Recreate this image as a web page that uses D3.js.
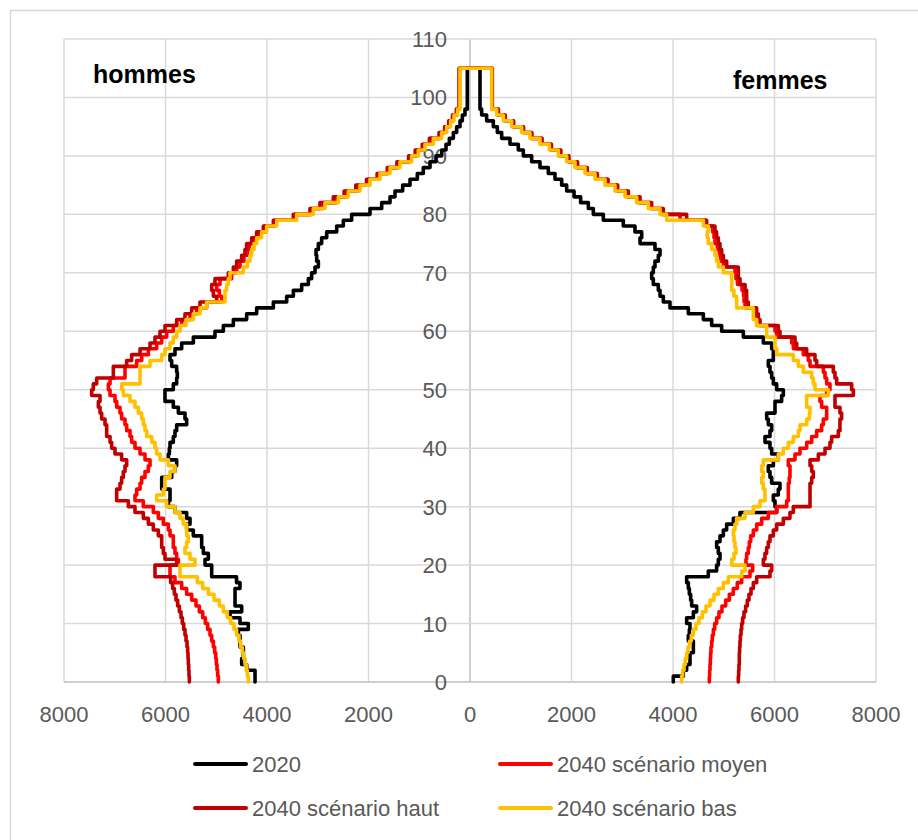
<!DOCTYPE html>
<html>
<head>
<meta charset="utf-8">
<script src="https://cdn.jsdelivr.net/npm/d3@7/dist/d3.min.js"></script>
<style>
  html, body { margin: 0; padding: 0; background: #ffffff; }
  svg { display: block; }
</style>
</head>
<body>
<svg id="chart" width="918" height="840"></svg>
<script>
// ---- Data (ages 0..97 single years, last entry = 98+ drawn up to age 105) ----
const ages = d3.range(0, 99);
const topAge = 105;

const seriesNames = ["2020", "2040 scénario moyen", "2040 scénario haut", "2040 scénario bas"];

const men2020 = [4236,4236,4400,4499,4466,4466,4532,4532,4565,4368,4532,4729,4499,4630,4630,4630,4532,4600,5090,5090,
  5221,5156,5254,5287,5287,5452,5583,5517,5583,5813,5944,5911,5911,6075,6075,5878,5813,5780,5944,5924,
  5911,5846,5813,5780,5583,5616,5747,5846,6010,6010,5846,5780,5767,5780,5878,5911,5813,5681,5451,5025,
  4860,4663,4401,4204,3875,3612,3481,3317,3185,3120,3054,2988,3021,3034,2988,2923,2824,2627,2496,2332,
  1970,1740,1576,1478,1327,1182,1038,920,788,670,558,473,407,328,263,197,151,99,53];

const menMoyen = [4959,4972,4985,4998,5011,5031,5057,5090,5123,5169,5215,5267,5333,5399,5484,5583,5681,5813,5911,5911,
  5747,5780,5813,5846,5846,5911,5944,6043,6141,6240,6437,6601,6568,6502,6470,6404,6338,6305,6404,6502,
  6601,6667,6699,6765,6798,6864,6896,6962,6995,7093,7126,7093,6798,6798,6568,6469,6338,6174,6075,5977,
  5846,5681,5517,5386,5189,4893,4939,4992,4926,4696,4598,4532,4453,4387,4348,4269,4171,4039,3842,3448,
  3120,2890,2627,2430,2200,2000,1800,1605,1410,1180,1050,915,780,585,485,405,335,260,205];

const menHaut = [5530,5537,5543,5550,5556,5563,5576,5596,5616,5642,5668,5694,5727,5760,5793,5826,5859,5898,6207,6207,
  5780,6010,6043,6075,6075,6141,6240,6338,6437,6601,6732,6962,6962,6896,6864,6831,6798,6765,6864,6995,
  7061,7093,7159,7159,7192,7258,7290,7323,7290,7455,7422,7356,7028,7028,6765,6667,6502,6305,6207,6108,
  6010,5780,5616,5484,5320,4992,5057,5090,5025,4762,4663,4598,4499,4434,4401,4302,4204,4072,3875,3481,
  3153,2956,2693,2480,2250,2040,1830,1630,1440,1210,1080,940,800,610,500,420,345,270,215];

const menBas = [4368,4388,4407,4433,4460,4486,4519,4552,4598,4650,4716,4782,4860,4939,5044,5156,5267,5372,5714,5714,
  5419,5517,5616,5583,5550,5583,5583,5650,5714,5813,5978,6174,6043,6010,6010,5911,5813,5944,6108,6174,
  6207,6272,6371,6404,6437,6470,6535,6601,6700,6830,6863,6502,6502,6502,6305,6075,6010,5911,5846,5780,
  5714,5596,5452,5320,5189,4827,4827,4795,4762,4729,4466,4387,4335,4302,4256,4203,4105,4006,3809,3415,
  3087,2857,2594,2397,2167,1970,1773,1576,1379,1149,1018,887,722,558,460,381,315,243,197];

const women2020 = [4006,4203,4269,4335,4335,4401,4401,4302,4322,4335,4269,4401,4466,4368,4348,4322,4302,4269,4696,4860,
  4893,4926,4893,4860,4926,4992,5057,5189,5320,6043,6010,5977,6075,6108,5944,5911,5878,5977,6075,5944,
  5911,5813,5911,5944,5878,5846,6010,6010,6141,6174,6043,5977,5944,5911,5878,5977,5977,5944,5780,5386,
  4959,4762,4598,4302,3941,3809,3744,3711,3612,3580,3612,3645,3711,3744,3645,3350,3383,3251,3021,2627,
  2430,2332,2180,2050,1905,1806,1675,1543,1379,1215,1051,952,788,624,539,460,328,230,197];

const womenMoyen = [4716,4722,4729,4736,4742,4749,4762,4775,4795,4821,4860,4906,4965,5038,5110,5189,5267,5353,5517,5570,
  5438,5451,5484,5504,5530,5583,5649,5747,5878,6043,6240,6272,6272,6272,6292,6305,6305,6272,6404,6502,
  6634,6733,6831,6929,6962,7028,7028,6929,6896,7028,7093,7028,6995,6962,6700,6667,6568,6371,6338,6043,
  6010,5650,5630,5600,5420,5400,5390,5360,5270,5240,5222,4992,4939,4913,4874,4827,4808,4782,4650,4138,
  3777,3547,3317,3100,2890,2700,2490,2290,2100,1935,1770,1590,1405,1205,1040,845,680,545,435];

const womenHaut = [5287,5294,5300,5307,5307,5313,5320,5327,5340,5353,5372,5398,5431,5464,5497,5537,5583,5649,5911,5944,
  5780,5812,5845,5878,5911,5977,6043,6174,6305,6371,6700,6700,6700,6700,6733,6765,6733,6700,6864,6995,
  7093,7126,7258,7290,7290,7323,7290,7192,7192,7554,7521,7225,7192,7159,6831,6798,6634,6437,6404,6108,
  6075,5714,5681,5648,5484,5451,5451,5420,5320,5287,5287,5057,4992,4959,4926,4893,4860,4827,4663,4269,
  3809,3580,3350,3120,2910,2720,2510,2310,2120,1950,1790,1605,1420,1220,1055,860,695,560,440];

const womenBas = [4171,4190,4217,4243,4269,4296,4328,4361,4401,4453,4512,4578,4650,4729,4808,4893,4992,5090,5353,5419,
  5156,5202,5241,5221,5202,5189,5221,5254,5419,5583,5714,5812,5812,5779,5747,5779,5747,5779,6075,6174,
  6272,6371,6470,6502,6634,6688,6700,6634,6634,7061,6798,6765,6733,6568,6470,6371,6043,6010,6010,5845,
  5845,5650,5583,5583,5254,5254,5200,5156,5156,5156,4992,4893,4860,4827,4762,4696,4676,4696,4598,3875,
  3744,3514,3284,3054,2857,2660,2463,2266,2069,1905,1740,1563,1379,1182,1018,821,657,525,427];

const xTicks = [-8000, -6000, -4000, -2000, 0, 2000, 4000, 6000, 8000];
const yTicks = [0, 10, 20, 30, 40, 50, 60, 70, 80, 90, 100, 110];
const colors = ["#000000", "#FF0000", "#C00000", "#FFC000"];
const menSeries = [men2020, menMoyen, menHaut, menBas];
const womenSeries = [women2020, womenMoyen, womenHaut, womenBas];

// ---- Chart ----
const svg = d3.select("#chart");
const FONT = "'Liberation Sans', Arial, sans-serif";

const x = d3.scaleLinear().domain([-8000, 8000]).range([64, 876]);
const y = d3.scaleLinear().domain([0, 110]).range([682, 39]);

// outer chart frame (extends off-image right/bottom)
svg.append("rect").attr("x", 10.5).attr("y", 10.5).attr("width", 940).attr("height", 860)
  .attr("fill", "none").attr("stroke", "#d9d9d9").attr("stroke-width", 1.5);

// gridlines
const grid = svg.append("g");
grid.selectAll("line.v").data(xTicks).join("line")
  .attr("x1", d => x(d)).attr("x2", d => x(d)).attr("y1", y(110)).attr("y2", y(0))
  .attr("stroke", d => d === 0 ? "#bfbfbf" : "#d9d9d9").attr("stroke-width", 1.5);
grid.selectAll("line.h").data(yTicks).join("line")
  .attr("x1", x(-8000)).attr("x2", x(8000)).attr("y1", d => y(d)).attr("y2", d => y(d))
  .attr("stroke", d => d === 0 ? "#bfbfbf" : "#d9d9d9").attr("stroke-width", 1.5);

// y axis labels (age) just left of the central axis
svg.append("g").selectAll("text").data(yTicks).join("text")
  .attr("x", x(0) - 23).attr("y", d => y(d) + 8)
  .attr("text-anchor", "end").attr("font-family", FONT).attr("font-size", 22).attr("fill", "#595959")
  .text(d => d);

// x axis labels (absolute values)
svg.append("g").selectAll("text").data(xTicks).join("text")
  .attr("x", d => x(d)).attr("y", 722)
  .attr("text-anchor", "middle").attr("font-family", FONT).attr("font-size", 22).attr("fill", "#595959")
  .text(d => Math.abs(d));

// panel titles
svg.append("text").attr("x", 93).attr("y", 83).attr("font-family", FONT).attr("font-weight", "bold")
  .attr("font-size", 25).attr("fill", "#000").text("hommes");
svg.append("text").attr("x", 733).attr("y", 89).attr("font-family", FONT).attr("font-weight", "bold")
  .attr("font-size", 25).attr("fill", "#000").text("femmes");

// step paths: men side up, across top, women side down
function stepPoints(menVals, womenVals) {
  const pts = [];
  ages.forEach((a, i) => {
    const hi = i === ages.length - 1 ? topAge : ages[i + 1];
    pts.push([-menVals[i], a], [-menVals[i], hi]);
  });
  for (let i = ages.length - 1; i >= 0; i--) {
    const hi = i === ages.length - 1 ? topAge : ages[i + 1];
    pts.push([womenVals[i], hi], [womenVals[i], ages[i]]);
  }
  return pts;
}
const line = d3.line().x(d => x(d[0])).y(d => y(d[1]));

svg.append("g").selectAll("path").data(seriesNames).join("path")
  .attr("d", (d, i) => line(stepPoints(menSeries[i], womenSeries[i])))
  .attr("fill", "none").attr("stroke", (d, i) => colors[i])
  .attr("stroke-width", 3.6).attr("stroke-linejoin", "round").attr("stroke-linecap", "round");

// legend
const legendPos = [[195, 764], [500, 764], [195, 808], [500, 808]];
const lg = svg.append("g").selectAll("g").data(seriesNames).join("g")
  .attr("transform", (d, i) => `translate(${legendPos[i][0]},${legendPos[i][1]})`);
lg.append("line").attr("x1", 0).attr("x2", 51).attr("y1", 0).attr("y2", 0)
  .attr("stroke", (d, i) => colors[i]).attr("stroke-width", 4).attr("stroke-linecap", "round");
lg.append("text").attr("x", 57).attr("y", 8).attr("font-family", FONT).attr("font-size", 22)
  .attr("fill", "#595959").text(d => d);
</script>
</body>
</html>
